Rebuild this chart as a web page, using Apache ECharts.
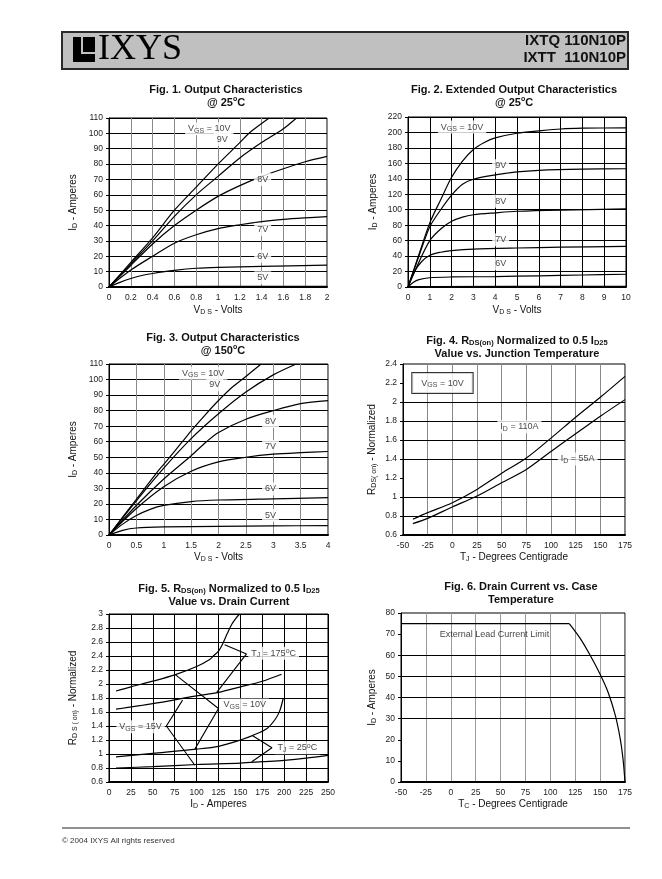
<!DOCTYPE html>
<html><head><meta charset="utf-8">
<script src="https://cdn.jsdelivr.net/npm/echarts/dist/echarts.min.js"></script>
<style>html,body{margin:0;padding:0;background:#fff}#c{width:662px;height:879px}</style>
</head><body><div id="c"></div>
<script>
// ---------- DATA ----------
// Fig.1 Output characteristics @25C  [VDS (V), ID (A)]
const f1Range = { x: [0, 2, 0.2], y: [0, 110, 10] };
const f1_10V = [[0,0],[0.2,16],[0.4,32],[0.6,50],[0.8,65],[1.0,80],[1.2,94],[1.3,101],[1.47,110]];
const f1_9V  = [[0,0],[0.2,15],[0.4,30],[0.6,46],[0.8,60],[1.0,72],[1.2,84],[1.4,94],[1.6,103],[1.72,110]];
const f1_8V  = [[0,0],[0.2,14],[0.4,28],[0.6,40],[0.8,50],[1.0,59],[1.2,66],[1.4,72],[1.6,77],[1.8,81.5],[2,85]];
const f1_7V  = [[0,0],[0.2,11],[0.4,20],[0.6,28.5],[0.8,34],[1,38],[1.2,40.5],[1.4,42.5],[1.6,44],[1.8,45],[2,45.8]];
const f1_6V  = [[0,0],[0.1,3],[0.2,5.5],[0.3,7.5],[0.4,8.8],[0.6,10.8],[0.8,12.2],[1,12.8],[1.4,13.4],[2,14.2]];
const f1_5V  = [[0,0],[0.2,0.3],[2,0.5]];
const f1Labels = [[0.92,103,'V{s|GS} = 10V'],[1.04,96,'9V'],[1.41,70,'8V'],[1.41,37.5,'7V'],[1.41,20,'6V'],[1.41,6,'5V']];

// Fig.2 Extended output characteristics @25C
const f2Range = { x: [0, 10, 1], y: [0, 220, 20] };
const f2_10V = [[0,0],[0.5,42],[1,83],[1.5,113],[2,142],[2.5,163],[3,178],[3.5,187],[4,193],[5,199],[6,202],[7,204.5],[8,205.5],[10,206]];
const f2_9V  = [[0,0],[0.5,40],[1,78],[1.5,100],[2,119],[2.5,133],[3,139.5],[4,145],[5,149],[6,151],[8,152.5],[10,153]];
const f2_8V  = [[0,0],[0.5,32],[1,60],[1.5,75],[2,85],[2.5,90.5],[3,93.5],[4,96],[5,98],[7,99.6],[10,101]];
const f2_7V  = [[0,0],[0.3,20],[0.6,32],[1,41],[1.5,45],[2,47],[3,49],[5,50.5],[7,51.5],[10,52.5]];
const f2_6V  = [[0,0],[0.25,6],[0.5,9.5],[1,12],[2,13],[4,13.5],[6,14.5],[8,15.5],[10,16.5]];
const f2_5V  = [[0,0],[1,0.5],[10,1]];
const f2Labels = [[2.48,207,'V{s|GS} = 10V'],[4.25,157,'9V'],[4.25,111,'8V'],[4.25,61,'7V'],[4.25,30,'6V']];

// Fig.3 Output characteristics @150C
const f3Range = { x: [0, 4, 0.5], y: [0, 110, 10] };
const f3_10V = [[0,0],[0.5,23],[0.87,40],[1,45.5],[1.34,60],[1.5,67],[1.75,77],[2,86.5],[2.25,95],[2.5,102],[2.78,110]];
const f3_9V  = [[0,0],[0.5,22],[1,43],[1.5,62],[2,78],[2.5,92],[3,103],[3.42,110]];
const f3_8V  = [[0,0],[0.5,19],[1,36],[1.5,51],[1.78,60],[2,66],[2.5,74.5],[3,80],[3.5,84.5],[4,86.5]];
const f3_7V  = [[0,0],[0.5,17],[1,31],[1.5,41],[2,47],[2.5,50],[3,52],[3.5,53],[4,53.7]];
const f3_6V  = [[0,0],[0.25,7],[0.5,12.5],[0.75,16.5],[1,19],[1.5,21.5],[2,22.5],[3,23.3],[4,24]];
const f3_5V  = [[0,0],[0.25,3],[0.5,4.5],[1,5.2],[2,5.6],[3,5.9],[4,6]];
const f3Labels = [[1.72,104,'V{s|GS} = 10V'],[1.93,96.5,'9V'],[2.95,73,'8V'],[2.95,57,'7V'],[2.95,29.7,'6V'],[2.95,12.6,'5V']];

// Fig.4 RDS(on) normalized vs TJ
const f4Range = { x: [-50, 175, 25], y: [0.6, 2.4, 0.2] };
const f4Temps = [-40,-25,0,25,50,75,100,125,150,175];
const f4_110A = [0.765,0.835,0.94,1.08,1.25,1.41,1.62,1.84,2.05,2.27];
const f4_55A  = [0.72,0.775,0.895,1.01,1.15,1.29,1.48,1.665,1.85,2.025];
const f4HLines = [0.8,1.0,1.4,1.6,1.8,2.0];
const f4Labels = [[68,1.74,'I{s|D} = 110A'],[127,1.40,'I{s|D} = 55A']];
const f4BoxLabel = [-10,2.2,'V{s|GS} = 10V'];

// Fig.5 RDS(on) normalized vs ID
const f5Range = { x: [0, 250, 25], y: [0.6, 3, 0.2] };
const f5_175_15V = [[8,1.9],[25,1.96],[50,2.04],[75,2.13],[100,2.25],[115,2.35],[120,2.41],[125,2.47],[130,2.58],[135,2.72],[140,2.85],[145,2.94],[149,3.0]];
const f5_175_10V = [[8,1.64],[50,1.72],[100,1.83],[125,1.88],[150,1.96],[175,2.04],[197,2.14]];
const f5_25_10V  = [[8,0.96],[50,1.01],[100,1.07],[125,1.11],[150,1.2],[165,1.27],[180,1.36],[190,1.5],[195,1.62],[199,1.8]];
const f5_25_15V  = [[8,0.8],[50,0.82],[100,0.85],[150,0.87],[175,0.89],[200,0.91],[225,0.94],[250,0.98]];
const f5Leader15 = [[84,1.77],[65.5,1.40],[98,0.84]];
const f5Leader10 = [[76,2.13],[125,1.65],[98,1.07]];
const f5Leader175 = [[132,2.56],[157,2.43],[123,1.88]];
const f5Leader25 = [[164,1.26],[186,1.09],[163,0.89]];
const f5Labels = [[36,1.39,'V{s|GS} = 15V'],[155,1.70,'V{s|GS} = 10V'],[188,2.44,'T{s|J} = 175{sup|o}C'],[215,1.09,'T{s|J} = 25{sup|o}C']];

// Fig.6 ID vs TC
const f6Range = { x: [-50, 175, 25], y: [0, 80, 10] };
const f6_limit = [[-50,75],[119,75]];
const f6_derate = [[119,75],[130,68],[140,60],[150,51],[158,42.5],[165,32],[170,21],[173,11],[175,0]];
const f6HLines = [30,40,50,60];
const f6Label = [44,70,'External Lead Current Limit'];

// ---------- STYLE / LAYOUT ----------
const FONT = "'Liberation Sans', Arial, Helvetica, sans-serif";
const RICH = {
  s:   {fontSize: 7, verticalAlign: 'bottom', lineHeight: 8, fontFamily: FONT, color: '#111'},
  sb:  {fontSize: 7.5, fontWeight: 'bold', verticalAlign: 'bottom', lineHeight: 8, fontFamily: FONT, color: '#111'},
  sup: {fontSize: 7, verticalAlign: 'top', lineHeight: 7, fontFamily: FONT, color: '#111'},
  supb:{fontSize: 7, fontWeight: 'bold', verticalAlign: 'top', lineHeight: 7, fontFamily: FONT, color: '#111'}
};
const grids = [
  {left:109, top:118, width:218, height:169},
  {left:408, top:117, width:218, height:170},
  {left:109, top:364, width:219, height:171},
  {left:403, top:364, width:222, height:171},
  {left:109, top:614, width:219, height:168},
  {left:401, top:613, width:224, height:169}
].map(g => Object.assign({show:true, borderColor:'#000', borderWidth:1, containLabel:false}, g));

function xAx(gi, r, name, gridColor, gap) {
  return {type:'value', gridIndex:gi, min:r[0], max:r[1], interval:r[2],
    name:name, nameLocation:'middle', nameGap:gap,
    nameTextStyle:{fontFamily:FONT, fontSize:10, color:'#111', lineHeight:12, rich:RICH},
    axisLine:{show:true, onZero:false, lineStyle:{color:'#000', width:2}},
    axisTick:{show:false},
    axisLabel:{fontFamily:FONT, fontSize:8.5, color:'#222', margin:6},
    splitLine:{show:true, lineStyle:{color:gridColor, width:1}}};
}
function yAx(gi, r, name, gap, split) {
  return {type:'value', gridIndex:gi, min:r[0], max:r[1], interval:r[2],
    name:name, nameLocation:'middle', nameGap:gap, nameRotate:90,
    nameTextStyle:{fontFamily:FONT, fontSize:10, color:'#111', lineHeight:12, rich:RICH},
    axisLine:{show:true, onZero:false, lineStyle:{color:'#000', width:1}},
    axisTick:{show:true, length:3, lineStyle:{color:'#000'}},
    axisLabel:{fontFamily:FONT, fontSize:8.5, color:'#222', margin:6},
    splitLine:{show:split !== false, lineStyle:{color:'#000', width:1}}};
}
function curve(gi, data, smooth) {
  return {type:'line', xAxisIndex:gi, yAxisIndex:gi, data:data, symbol:'none', showSymbol:false,
    smooth: smooth === false ? false : 0.3, silent:true, z:3,
    lineStyle:{color:'#000', width:1.2}};
}
function leader(gi, data) {
  return {type:'line', xAxisIndex:gi, yAxisIndex:gi, data:data, symbol:'none', smooth:false, silent:true, z:4,
    lineStyle:{color:'#000', width:1.1}};
}
function txt(gi, item, extra) {
  return {type:'scatter', xAxisIndex:gi, yAxisIndex:gi, symbolSize:1, silent:true, z:10,
    itemStyle:{color:'rgba(0,0,0,0)'},
    data:[[item[0], item[1]]],
    label:Object.assign({show:true, position:'inside', formatter:item[2], fontFamily:FONT, fontSize:9,
      color:'#111', lineHeight:11, backgroundColor:'#fff', padding:[1,3], rich:RICH}, extra || {})};
}
function hLines(gi, vals) {
  return {type:'line', xAxisIndex:gi, yAxisIndex:gi, data:[], silent:true,
    markLine:{symbol:'none', silent:true, label:{show:false}, animation:false,
      lineStyle:{color:'#000', width:1, type:'solid'}, data: vals.map(v => ({yAxis:v}))}};
}
function title(text, cx, top) {
  return {text:text, left:cx, top:top, textAlign:'center',
    textStyle:{fontFamily:FONT, fontSize:11, fontWeight:'bold', color:'#111', lineHeight:13, rich:RICH}};
}

const series = [];
[f1_10V,f1_9V,f1_8V,f1_7V,f1_6V,f1_5V].forEach(d => series.push(curve(0, d)));
f1Labels.forEach(l => series.push(txt(0, l)));
[f2_10V,f2_9V,f2_8V,f2_7V,f2_6V,f2_5V].forEach(d => series.push(curve(1, d)));
f2Labels.forEach(l => series.push(txt(1, l)));
[f3_10V,f3_9V,f3_8V,f3_7V,f3_6V,f3_5V].forEach(d => series.push(curve(2, d)));
f3Labels.forEach(l => series.push(txt(2, l)));
series.push(hLines(3, f4HLines));
series.push(curve(3, f4Temps.map((t,i) => [t, f4_110A[i]])));
series.push(curve(3, f4Temps.map((t,i) => [t, f4_55A[i]])));
f4Labels.forEach(l => series.push(txt(3, l)));
series.push(txt(3, f4BoxLabel, {borderColor:'#000', borderWidth:1, padding:[5,9,4,9]}));
[f5_175_15V,f5_175_10V,f5_25_10V,f5_25_15V].forEach(d => series.push(curve(4, d)));
[f5Leader15,f5Leader10,f5Leader175,f5Leader25].forEach(d => series.push(leader(4, d)));
f5Labels.forEach(l => series.push(txt(4, l)));
series.push(hLines(5, f6HLines));
series.push(curve(5, f6_limit, false));
series.push(curve(5, f6_derate));
series.push(txt(5, f6Label, {backgroundColor:'transparent'}));

const option = {
  animation:false,
  backgroundColor:'#fff',
  title:[
    title('Fig. 1. Output Characteristics\n@ 25{supb|o}C', 221, 78),
    title('Fig. 2. Extended Output Characteristics\n@ 25{supb|o}C', 509, 78),
    title('Fig. 3. Output Characteristics\n@ 150{supb|o}C', 218, 326),
    title('Fig. 4. R{sb|DS(on)} Normalized to 0.5 I{sb|D25}\nValue vs. Junction Temperature', 512, 329),
    title('Fig. 5. R{sb|DS(on)} Normalized to 0.5 I{sb|D25}\nValue vs. Drain Current', 224, 577),
    title('Fig. 6. Drain Current vs. Case\nTemperature', 516, 575)
  ],
  grid:grids,
  xAxis:[
    xAx(0, f1Range.x, 'V{s|D S} - Volts', '#8a8a8a', 17),
    xAx(1, f2Range.x, 'V{s|D S} - Volts', '#000', 17),
    xAx(2, f3Range.x, 'V{s|D S} - Volts', '#8a8a8a', 15),
    xAx(3, f4Range.x, 'T{s|J} - Degrees Centigrade', '#8a8a8a', 16),
    xAx(4, f5Range.x, 'I{s|D} - Amperes', '#000', 14),
    xAx(5, f6Range.x, 'T{s|C} - Degrees Centigrade', '#9a9a9a', 14)
  ],
  yAxis:[
    yAx(0, f1Range.y, 'I{s|D} - Amperes', 30),
    yAx(1, f2Range.y, 'I{s|D} - Amperes', 29),
    yAx(2, f3Range.y, 'I{s|D} - Amperes', 30),
    yAx(3, f4Range.y, 'R{s|DS( on)} - Normalized', 25, false),
    yAx(4, f5Range.y, 'R{s|D S ( on)} - Normalized', 30),
    yAx(5, f6Range.y, 'I{s|D} - Amperes', 23, false)
  ],
  series:series,
  graphic:[
    {type:'rect', shape:{x:62, y:32, width:566, height:37}, style:{fill:'#c0c0c0', stroke:'#2a2a2a', lineWidth:2}, silent:true},
    {type:'rect', shape:{x:73, y:37, width:8, height:25}, style:{fill:'#000'}, silent:true},
    {type:'rect', shape:{x:83, y:37, width:12, height:15}, style:{fill:'#000'}, silent:true},
    {type:'rect', shape:{x:73, y:54, width:22, height:8}, style:{fill:'#000'}, silent:true},
    {type:'text', x:98, y:50, style:{text:'IXYS', font:'36px "Liberation Serif", "Times New Roman", serif', fill:'#000', verticalAlign:'middle', textVerticalAlign:'middle'}, silent:true},
    {type:'text', x:626, y:41, style:{text:'IXTQ 110N10P', font:'bold 15px ' + FONT, fill:'#111', align:'right', textAlign:'right', verticalAlign:'middle', textVerticalAlign:'middle'}, silent:true},
    {type:'text', x:626, y:58, style:{text:'IXTT  110N10P', font:'bold 15px ' + FONT, fill:'#111', align:'right', textAlign:'right', verticalAlign:'middle', textVerticalAlign:'middle'}, silent:true},
    {type:'line', shape:{x1:62, y1:828, x2:630, y2:828}, style:{stroke:'#222', lineWidth:1}, silent:true},
    {type:'text', x:62, y:841, style:{text:'© 2004 IXYS All rights reserved', font:'8px ' + FONT, fill:'#333', verticalAlign:'middle', textVerticalAlign:'middle'}, silent:true}
  ]
};
const chart = echarts.init(document.getElementById('c'), null, {renderer:'canvas'});
chart.setOption(option);
</script></body></html>
